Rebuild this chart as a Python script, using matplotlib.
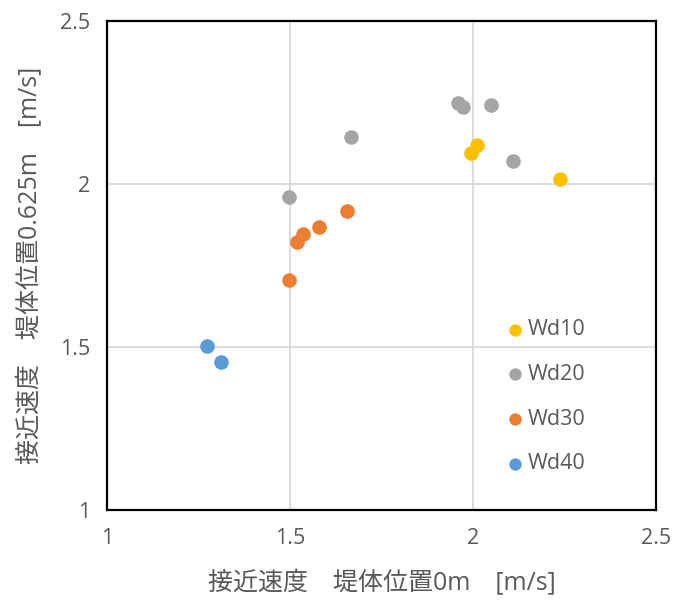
import matplotlib
matplotlib.use("Agg")
import matplotlib.pyplot as plt

plt.rcParams['font.family'] = ['Open Sans', 'Noto Sans CJK JP', 'DejaVu Sans']

series_names = ["Wd10", "Wd20", "Wd30", "Wd40"]
colors = ["#FFC000", "#A5A5A5", "#ED7D31", "#5B9BD5"]
wd10_x = [2.009, 1.993, 2.238]
wd10_y = [2.121, 2.097, 2.017]
wd20_x = [1.959, 1.973, 2.048, 1.666, 2.108, 1.497]
wd20_y = [2.250, 2.236, 2.244, 2.146, 2.072, 1.962]
wd30_x = [1.655, 1.578, 1.534, 1.518, 1.497]
wd30_y = [1.919, 1.870, 1.847, 1.822, 1.705]
wd40_x = [1.273, 1.311]
wd40_y = [1.505, 1.456]
xs = [wd10_x, wd20_x, wd30_x, wd40_x]
ys = [wd10_y, wd20_y, wd30_y, wd40_y]
ticks = [1, 1.5, 2, 2.5]
tick_labels = ["1", "1.5", "2", "2.5"]

fig = plt.figure(figsize=(6.78, 6.08), dpi=100)
ax = fig.add_axes([0.158, 0.161, 0.810, 0.804])
for name, c, x, y in zip(series_names, colors, xs, ys):
    ax.scatter(x, y, s=110, color=c, label=name, zorder=3, linewidths=0)

ax.set_xlim(1, 2.5)
ax.set_ylim(1, 2.5)
ax.set_xticks(ticks)
ax.set_xticklabels(tick_labels)
ax.set_yticks(ticks)
ax.set_yticklabels(tick_labels)
ax.grid(True, color="#D9D9D9", linewidth=1.3, zorder=0)
ax.set_axisbelow(True)
ax.tick_params(length=0, labelsize=15.5, labelcolor="#595959")
ax.tick_params(axis='x', pad=13)
ax.tick_params(axis='y', pad=12)
for sp in ax.spines.values():
    sp.set_color("black")
    sp.set_linewidth(1.6)

ax.set_xlabel("接近速度　堤体位置0m　[m/s]", fontsize=18, color="#595959", labelpad=15)
ax.set_ylabel("接近速度　堤体位置0.625m　[m/s]", fontsize=18, color="#595959", labelpad=12)

leg = ax.legend(loc="center left", bbox_to_anchor=(0.727, 0.232), frameon=False,
                fontsize=15.5, handletextpad=0.2, labelspacing=1.1, handlelength=0.8,
                markerscale=0.85, borderpad=0, borderaxespad=0)
for t in leg.get_texts():
    t.set_color("#595959")

fig.savefig("out.png", dpi=100)
